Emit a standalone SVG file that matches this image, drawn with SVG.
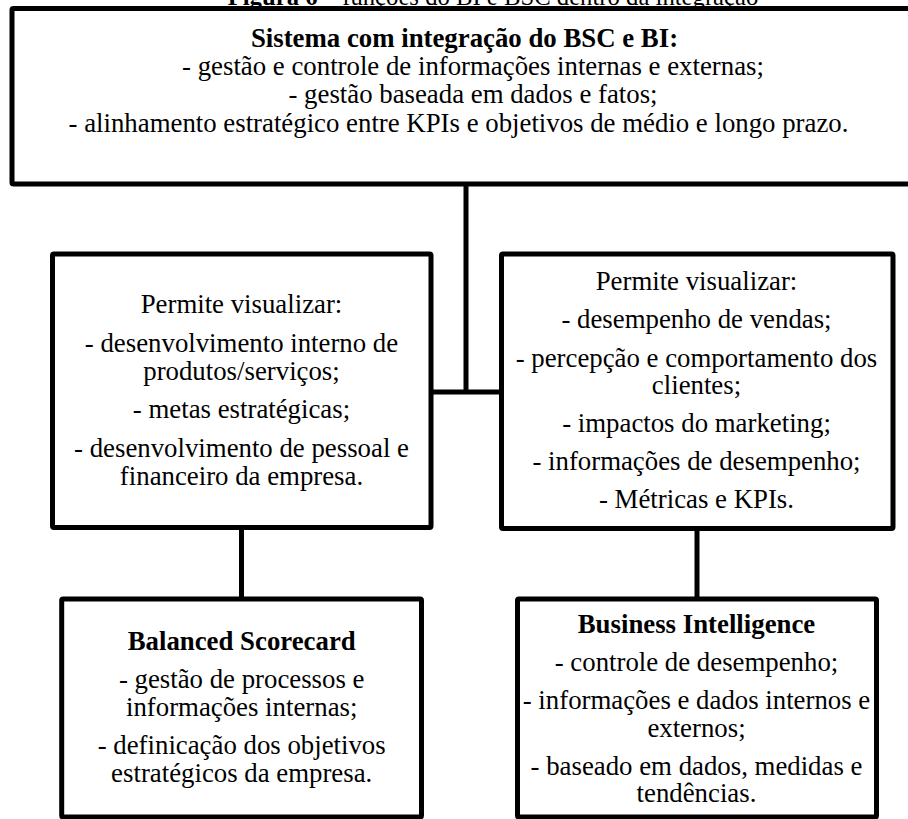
<svg xmlns="http://www.w3.org/2000/svg" width="908" height="819" viewBox="0 0 908 819">
<style>
.box{fill:#fff;stroke:#000;stroke-width:5}
.t{font-family:"Liberation Serif","Times New Roman",serif;font-size:26.8px;fill:#000;text-anchor:middle}
.b{font-weight:bold}
.c{stroke:#000;stroke-width:5;fill:none}
</style>
<rect width="908" height="819" fill="#fff"/>
<text class="t" x="493" y="5" style="font-size:24.7px"><tspan class="b">Figura 6</tspan> – funções do BI e BSC dentro da integração</text>
<g id="connectors">
<path class="c" d="M466 184V392M431 392H501"/>
<path class="c" d="M241.5 527V599"/>
<path class="c" d="M697 528V599"/>
</g>
<g id="top">
<rect class="box" x="12" y="8.5" width="910" height="175.5" rx="1.5"/>
<text class="t b" x="464.5" y="46.7">Sistema com integração do BSC e BI:</text>
<text class="t" x="473" y="75">- gestão e controle de informações internas e externas;</text>
<text class="t" x="473" y="103.3">- gestão baseada em dados e fatos;</text>
<text class="t" x="458.5" y="131.7">- alinhamento estratégico entre KPIs e objetivos de médio e longo prazo.</text>
</g>
<g id="left-mid">
<rect class="box" x="52.5" y="254" width="378.5" height="273.5" rx="1.5"/>
<text class="t" x="241.5" y="313.3">Permite visualizar:</text>
<text class="t" x="241.5" y="351.7">- desenvolvimento interno de</text>
<text class="t" x="241.5" y="380">produtos/serviços;</text>
<text class="t" x="241.5" y="418">- metas estratégicas;</text>
<text class="t" x="241.5" y="456.7">- desenvolvimento de pessoal e</text>
<text class="t" x="241.5" y="485">financeiro da empresa.</text>
</g>
<g id="right-mid">
<rect class="box" x="501.5" y="254" width="391.5" height="274.5" rx="1.5"/>
<text class="t" x="696.5" y="290">Permite visualizar:</text>
<text class="t" x="696.5" y="328.3">- desempenho de vendas;</text>
<text class="t" x="696.5" y="366.7">- percepção e comportamento dos</text>
<text class="t" x="696.5" y="394">clientes;</text>
<text class="t" x="696.5" y="432.3">- impactos do marketing;</text>
<text class="t" x="696.5" y="470">- informações de desempenho;</text>
<text class="t" x="696.5" y="508.3">- Métricas e KPIs.</text>
</g>
<g id="bsc">
<rect class="box" x="61.7" y="599" width="359.8" height="218" rx="1.5"/>
<text class="t b" x="241.7" y="650">Balanced Scorecard</text>
<text class="t" x="241.7" y="688.3">- gestão de processos e</text>
<text class="t" x="241.7" y="715.7">informações internas;</text>
<text class="t" x="241.7" y="754">- definicação dos objetivos</text>
<text class="t" x="241.7" y="781.7">estratégicos da empresa.</text>
</g>
<g id="bi">
<rect class="box" x="517.5" y="599" width="359" height="218" rx="1.5"/>
<text class="t b" x="696.5" y="632.7">Business Intelligence</text>
<text class="t" x="696.5" y="671">- controle de desempenho;</text>
<text class="t" x="696.5" y="709.3">- informações e dados internos e</text>
<text class="t" x="696.5" y="736.7">externos;</text>
<text class="t" x="696.5" y="775">- baseado em dados, medidas e</text>
<text class="t" x="696.5" y="802.3">tendências.</text>
</g>
</svg>
